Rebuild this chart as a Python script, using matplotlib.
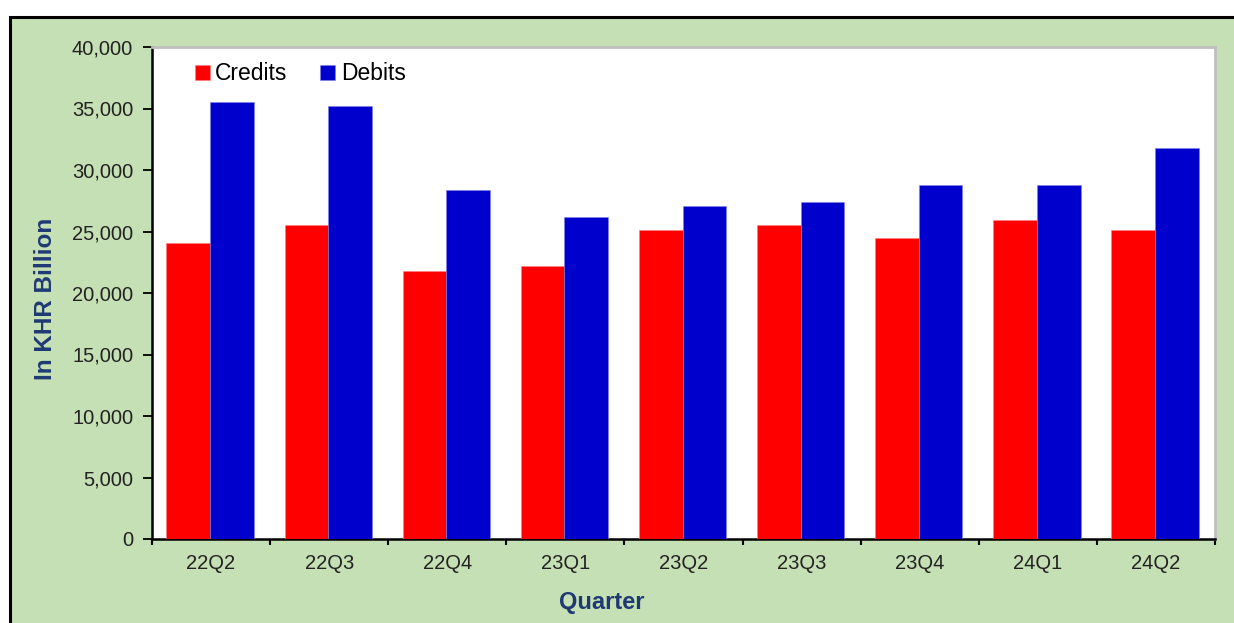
import matplotlib.pyplot as plt
from matplotlib.patches import Rectangle
from matplotlib.ticker import FuncFormatter, FixedLocator
import numpy as np

quarters = ['22Q2', '22Q3', '22Q4', '23Q1', '23Q2', '23Q3', '23Q4', '24Q1', '24Q2']
credits = [24050, 25500, 21780, 22190, 25110, 25520, 24490, 25950, 25110]
debits = [35500, 35240, 28370, 26170, 27110, 27390, 28770, 28770, 31780]

plt.rcParams['font.family'] = ['Liberation Sans', 'DejaVu Sans']

W, H = 1234, 623
fig = plt.figure(figsize=(W / 100, H / 100), dpi=100)
fig.patch.set_facecolor('white')

# green panel with black frame, running off the right and bottom edges
fig.patches.append(Rectangle((9.5 / W, -0.05), 1.2, (H - 16.5) / H + 0.05,
                             transform=fig.transFigure, facecolor='#C5E0B4',
                             edgecolor='black', linewidth=2.2, zorder=-5))

# title cut off at the top of the image, only descenders show
fig.text(20 / W, 1 + 8 / H, 'Figure 5: Composition of Payments',
         color='#0070C0', fontsize=19.5, fontweight='bold', family='Liberation Serif',
         va='baseline', ha='left')

ax = fig.add_axes([152 / W, (H - 539) / H, (1215 - 152) / W, (539 - 47) / H])
ax.set_zorder(2)
ax.set_facecolor('white')

x = np.arange(len(quarters))
w = 0.37
ax.bar(x - w / 2 - 0.008, credits, w, color='#FF0000', edgecolor='#FF8080',
       linewidth=0.4, label='Credits', zorder=3)
ax.bar(x + w / 2 - 0.008, debits, w, color='#0000CC', edgecolor='#8080E6',
       linewidth=0.4, label='Debits', zorder=3)

ax.set_xlim(-0.5, len(quarters) - 0.5)
ax.set_ylim(0, 40000)
ax.set_yticks(np.arange(0, 40001, 5000))
ax.yaxis.set_major_formatter(FuncFormatter(lambda v, p: f'{int(v):,}'))

# ticks on category boundaries, labels centred
ax.xaxis.set_major_locator(FixedLocator(np.arange(-0.5, len(quarters), 1)))
ax.set_xticklabels([])
ax.xaxis.set_minor_locator(FixedLocator(x))
ax.set_xticklabels(quarters, minor=True)
ax.tick_params(axis='x', which='minor', length=0, pad=11, labelsize=14.5, labelcolor='#222222')
ax.tick_params(axis='x', which='major', length=4.5, width=1.5, color='black', direction='out')
ax.tick_params(axis='y', length=6.5, width=1.3, pad=7, labelsize=14.5, labelcolor='#222222')

for side in ['left', 'bottom']:
    ax.spines[side].set_color('black')
    ax.spines[side].set_linewidth(1.8)
for side in ['top', 'right']:
    ax.spines[side].set_color('#BFBFBF')
    ax.spines[side].set_linewidth(2)

leg = ax.legend(loc='center left', bbox_to_anchor=(0.04, 1 - 27 / 492), ncol=2,
                frameon=False, fontsize=16.5, handlelength=0.66, handleheight=0.66,
                handletextpad=0.25, columnspacing=1.4, borderpad=0, borderaxespad=0)

fig.text(46 / W, 1 - 299 / H, 'In KHR Billion', rotation=90, ha='center', va='center',
         fontsize=17.5, fontweight='bold', color='#1F3A73')
fig.text(602 / W, 1 - 603 / H, 'Quarter', ha='center', va='center',
         fontsize=17, fontweight='bold', color='#1F3A73')

fig.savefig('out.png', dpi=100)
